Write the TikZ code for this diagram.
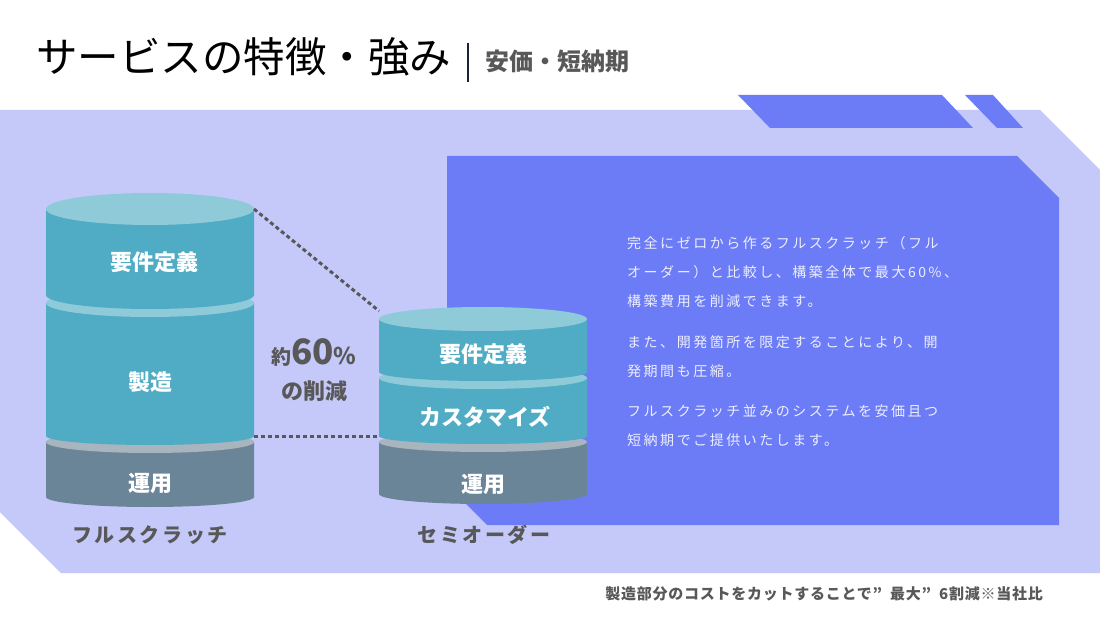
\documentclass[tikz,border=0pt]{standalone}
\usepackage{fontspec}
\setmainfont{Noto Sans CJK JP}
\usetikzlibrary{positioning,calc}
\definecolor{bandlight}{RGB}{197,201,250}
\definecolor{panelblue}{RGB}{108,124,247}
\definecolor{drumteal}{RGB}{79,172,196}
\definecolor{drumtop}{RGB}{143,202,216}
\definecolor{drumgray}{RGB}{168,180,190}
\definecolor{drumslate}{RGB}{107,133,152}
\definecolor{textgray}{RGB}{88,88,88}
\definecolor{titlenavy}{RGB}{25,32,60}
\definecolor{paratext}{RGB}{236,238,255}

% one layer of a stacked drum: cx, rx, ytop, ry top, ybot, ry bottom, body, top face
\newcommand{\drum}[8]{%
  \fill[#7] ({#1-#2},#3) -- ({#1-#2},#5)
    arc[start angle=180,end angle=360,x radius=#2pt,y radius=#6pt]
    -- ({#1+#2},#3) -- cycle;
  \fill[#8] (#1,#3) ellipse[x radius=#2pt,y radius=#4pt];
}

\begin{document}
\begin{tikzpicture}[x=1pt,y=1pt,
  drumlabel/.style={inner sep=0,text=white,font=\fontsize{22}{22}\selectfont\bfseries},
  caption/.style={inner sep=0,text=textgray,font=\fontsize{20}{20}\selectfont\bfseries\addfontfeature{LetterSpace=13}},
  dotline/.style={textgray,line width=3pt,dash pattern=on 4pt off 3pt}]
  \useasboundingbox (0,0) rectangle (1100,619);
  \fill[white] (0,0) rectangle (1100,619);

  % background band, stripes and panel
  \fill[bandlight] (0,509) -- (1040,509) -- (1100,449) -- (1100,46) -- (61,46) -- (0,107) -- cycle;
  \fill[panelblue] (738,524) -- (942,524) -- (973,491) -- (770,491) -- cycle;
  \fill[panelblue] (965,524) -- (993,524) -- (1023,491) -- (997,491) -- cycle;
  \fill[panelblue] (447,463) -- (1017,463) -- (1059,421) -- (1059,94) -- (487,94) -- (447,134) -- cycle;

  % title
  \node[anchor=base west,inner sep=0,text=black,font=\fontsize{41.5}{42}\selectfont] (title) at (36,546) {サービスの特徴・強み};
  \draw[titlenavy,line width=2pt] (468,576) -- (468,537);
  \node[anchor=base west,inner sep=0,text=textgray,font=\fontsize{24}{24}\selectfont\bfseries] (subtitle) at (485,548) {安価・短納期};

  % full scratch drum
  \drum{150}{104}{177}{11}{122}{10}{drumslate}{drumgray}
  \drum{150}{104}{316}{14}{183}{9}{drumteal}{drumtop}
  \drum{150}{104}{410}{16}{324}{14}{drumteal}{drumtop}
  % semi order drum
  \drum{483}{104}{177}{10}{125}{10}{drumslate}{drumgray}
  \drum{483}{104}{241}{11}{183}{8}{drumteal}{drumtop}
  \drum{483}{104}{300}{12}{247}{9}{drumteal}{drumtop}

  \node[drumlabel] (fs-req) at (154,357) {要件定義};
  \node[drumlabel] (fs-make) at (150,237) {製造};
  \node[drumlabel] (fs-ops) at (150,136) {運用};
  \node[drumlabel] (so-req) at (483,265) {要件定義};
  \node[drumlabel] (so-cust) at (485,202) {カスタマイズ};
  \node[drumlabel] (so-ops) at (483,135) {運用};

  \node[caption] (fs-name) at (150,84) {フルスクラッチ};
  \node[caption] (so-name) at (484,84) {セミオーダー};

  % reduction markers
  \coordinate (fs-top) at (254,410);
  \coordinate (so-top) at (379,308);
  \coordinate (fs-mid) at (254,183);
  \coordinate (so-mid) at (379,183);
  \draw[dotline] (fs-top) -- (so-top);
  \draw[dotline] (fs-mid) -- (so-mid);

  \node[inner sep=0,text=textgray,font=\bfseries] (cut) at (314,266)
    {{\fontsize{20}{20}\selectfont 約}{\fontsize{35}{35}\selectfont 60}{\fontsize{23}{23}\selectfont \%}};
  \node[inner sep=0,text=textgray,font=\fontsize{22}{22}\selectfont\bfseries,below=13pt of cut] (cut2) {の削減};

  % description
  \node[anchor=north west,inner sep=0,align=left,text=paratext,
    font=\fontsize{14}{29}\selectfont\addfontfeature{LetterSpace=18}] (desc) at (627,383)
    {完全にゼロから作るフルスクラッチ（フル\\
     オーダー）と比較し、構築全体で最大60\%、\\
     構築費用を削減できます。\\[12pt]
     また、開発箇所を限定することにより、開\\
     発期間も圧縮。\\[11pt]
     フルスクラッチ並みのシステムを安価且つ\\
     短納期でご提供いたします。};

  % note
  \node[anchor=east,inner sep=0,text=textgray,font=\fontsize{15}{15}\selectfont\bfseries\addfontfeature{LetterSpace=5}] (note) at (1043,25)
    {製造部分のコストをカットすることで”\hspace{8pt}最大”\hspace{8pt}6割減※当社比};
\end{tikzpicture}
\end{document}
